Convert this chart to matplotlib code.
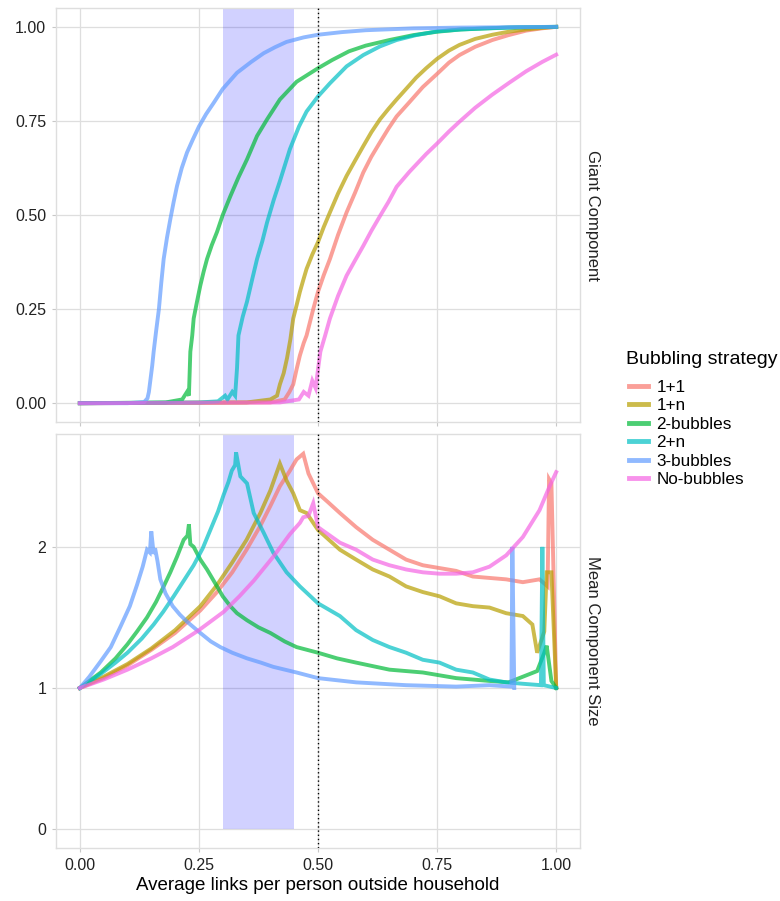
import matplotlib
matplotlib.use("Agg")
from matplotlib import pyplot as plt
from matplotlib.lines import Line2D

plt.rcParams['font.family'] = ['Liberation Sans', 'DejaVu Sans']

strategies = ["1+1", "1+n", "2-bubbles", "2+n", "3-bubbles", "No-bubbles"]
colors = ["#F8766D", "#B79F00", "#00BA38", "#00BFC4", "#619CFF", "#F564E3"]

# ---- Giant Component (top panel) ----
gc_x_1p1 = [0, 0.40, 0.43, 0.44, 0.448, 0.455, 0.462, 0.47, 0.476, 0.483, 0.49, 0.50,
            0.512, 0.525, 0.542, 0.56, 0.578, 0.595, 0.612, 0.63, 0.648, 0.665, 0.692,
            0.72, 0.75, 0.775, 0.797, 0.83, 0.866, 0.90, 0.937, 0.97, 1.0]
gc_y_1p1 = [0, 0.002, 0.01, 0.03, 0.05, 0.09, 0.127, 0.16, 0.18, 0.215, 0.25, 0.296,
            0.34, 0.383, 0.447, 0.507, 0.56, 0.613, 0.655, 0.693, 0.73, 0.762, 0.80,
            0.84, 0.875, 0.905, 0.925, 0.947, 0.965, 0.978, 0.99, 0.996, 1.0]

gc_x_1pn = [0, 0.35, 0.40, 0.414, 0.42, 0.428, 0.435, 0.442, 0.448, 0.455, 0.462, 0.469,
            0.476, 0.488, 0.50, 0.512, 0.525, 0.542, 0.56, 0.578, 0.595, 0.612, 0.63,
            0.648, 0.665, 0.692, 0.706, 0.727, 0.75, 0.775, 0.797, 0.83, 0.866, 0.90,
            0.937, 0.97, 1.0]
gc_y_1pn = [0, 0.002, 0.01, 0.02, 0.05, 0.08, 0.12, 0.17, 0.225, 0.26, 0.296, 0.327,
            0.357, 0.395, 0.428, 0.468, 0.507, 0.557, 0.604, 0.645, 0.683, 0.72, 0.754,
            0.782, 0.807, 0.845, 0.865, 0.89, 0.915, 0.937, 0.952, 0.968, 0.979, 0.987,
            0.993, 0.997, 1.0]

gc_x_2b = [0, 0.18, 0.215, 0.225, 0.229, 0.232, 0.236, 0.239, 0.246, 0.253, 0.26, 0.267,
           0.277, 0.288, 0.30, 0.316, 0.333, 0.351, 0.372, 0.393, 0.42, 0.455, 0.50,
           0.53, 0.565, 0.60, 0.65, 0.70, 0.75, 0.80, 0.90, 1.0]
gc_y_2b = [0, 0.002, 0.01, 0.03, 0.02, 0.137, 0.18, 0.225, 0.27, 0.313, 0.35, 0.383,
           0.42, 0.455, 0.50, 0.55, 0.60, 0.648, 0.71, 0.754, 0.807, 0.854, 0.89,
           0.912, 0.935, 0.95, 0.965, 0.978, 0.987, 0.993, 0.998, 1.0]

gc_x_2pn = [0, 0.25, 0.29, 0.305, 0.31, 0.32, 0.326, 0.33, 0.333, 0.342, 0.351, 0.362,
            0.372, 0.383, 0.393, 0.407, 0.42, 0.441, 0.46, 0.476, 0.50, 0.525, 0.56,
            0.595, 0.63, 0.665, 0.706, 0.75, 0.80, 0.85, 0.92, 1.0]
gc_y_2pn = [0, 0.002, 0.005, 0.02, 0.01, 0.03, 0.02, 0.093, 0.18, 0.23, 0.27, 0.33,
            0.383, 0.43, 0.48, 0.54, 0.59, 0.675, 0.735, 0.775, 0.815, 0.85, 0.895,
            0.925, 0.948, 0.965, 0.978, 0.988, 0.993, 0.996, 0.999, 1.0]

gc_x_3b = [0, 0.10, 0.135, 0.142, 0.145, 0.148, 0.152, 0.155, 0.16, 0.166, 0.171, 0.176,
           0.183, 0.19, 0.197, 0.204, 0.214, 0.225, 0.237, 0.25, 0.265, 0.281, 0.30,
           0.33, 0.36, 0.386, 0.41, 0.434, 0.47, 0.50, 0.55, 0.60, 0.70, 0.80, 0.90, 1.0]
gc_y_3b = [0, 0, 0.003, 0.013, 0.03, 0.06, 0.10, 0.137, 0.19, 0.25, 0.32, 0.383,
           0.44, 0.489, 0.535, 0.577, 0.625, 0.666, 0.70, 0.735, 0.768, 0.798, 0.835,
           0.878, 0.907, 0.93, 0.946, 0.96, 0.972, 0.979, 0.986, 0.991, 0.996, 0.998,
           0.999, 1.0]

gc_x_nb = [0, 0.42, 0.46, 0.47, 0.48, 0.488, 0.495, 0.50, 0.505, 0.515, 0.525, 0.542,
           0.56, 0.578, 0.595, 0.612, 0.63, 0.648, 0.665, 0.692, 0.727, 0.75, 0.775,
           0.797, 0.83, 0.866, 0.902, 0.937, 0.971, 1.0]
gc_y_nb = [0, 0.002, 0.01, 0.03, 0.02, 0.06, 0.04, 0.09, 0.137, 0.18, 0.225, 0.285,
           0.339, 0.38, 0.418, 0.458, 0.497, 0.535, 0.575, 0.615, 0.662, 0.69, 0.722,
           0.748, 0.785, 0.82, 0.852, 0.882, 0.907, 0.926]

# ---- Mean Component Size (bottom panel) ----
mc_x_1p1 = [0, 0.05, 0.10, 0.15, 0.20, 0.253, 0.288, 0.32, 0.35, 0.379, 0.40, 0.42,
            0.441, 0.455, 0.469, 0.48, 0.50, 0.52, 0.546, 0.58, 0.615, 0.65, 0.685,
            0.72, 0.755, 0.79, 0.825, 0.86, 0.895, 0.93, 0.965, 0.982, 0.985, 0.99,
            1.0]
mc_y_1p1 = [1.0, 1.07, 1.16, 1.27, 1.39, 1.55, 1.68, 1.82, 1.98, 2.15, 2.29, 2.43,
            2.54, 2.62, 2.66, 2.52, 2.38, 2.32, 2.24, 2.14, 2.05, 1.98, 1.91,
            1.87, 1.85, 1.83, 1.79, 1.78, 1.77, 1.75, 1.77, 1.72, 2.48, 2.45,
            1.0]

mc_x_1pn = [0, 0.05, 0.10, 0.15, 0.20, 0.253, 0.288, 0.32, 0.35, 0.379, 0.40, 0.42,
            0.434, 0.448, 0.462, 0.476, 0.50, 0.546, 0.58, 0.615, 0.65, 0.685, 0.72,
            0.755, 0.79, 0.825, 0.86, 0.895, 0.93, 0.95, 0.96, 0.975, 0.98, 0.99, 1.0]
mc_y_1pn = [1.0, 1.08, 1.17, 1.28, 1.41, 1.58, 1.73, 1.89, 2.05, 2.24, 2.40, 2.59,
            2.47, 2.38, 2.26, 2.24, 2.12, 1.98, 1.91, 1.84, 1.79, 1.72, 1.68,
            1.65, 1.60, 1.58, 1.57, 1.53, 1.51, 1.45, 1.25, 1.40, 1.82, 1.82, 1.0]

mc_x_2b = [0, 0.044, 0.075, 0.10, 0.12, 0.141, 0.16, 0.176, 0.19, 0.204, 0.218, 0.226,
           0.229, 0.232, 0.239, 0.253, 0.267, 0.288, 0.30, 0.316, 0.33, 0.351, 0.375,
           0.40, 0.43, 0.455, 0.50, 0.54, 0.58, 0.65, 0.72, 0.79, 0.86, 0.90, 0.93,
           0.96, 0.975, 0.98, 0.99, 1.0]
mc_y_2b = [1.0, 1.11, 1.21, 1.31, 1.40, 1.50, 1.61, 1.72, 1.82, 1.93, 2.05, 2.08,
           2.16, 2.02, 2.0, 1.91, 1.84, 1.72, 1.65, 1.58, 1.53, 1.48, 1.43,
           1.39, 1.33, 1.29, 1.25, 1.21, 1.18, 1.13, 1.11, 1.07, 1.05, 1.04, 1.08,
           1.12, 1.25, 1.30, 1.05, 1.0]

mc_x_2pn = [0, 0.044, 0.075, 0.10, 0.13, 0.155, 0.175, 0.197, 0.22, 0.239, 0.258, 0.274,
            0.29, 0.302, 0.312, 0.319, 0.326, 0.328, 0.337, 0.351, 0.365, 0.386, 0.406,
            0.434, 0.462, 0.50, 0.546, 0.58, 0.615, 0.65, 0.685, 0.72, 0.755, 0.79,
            0.825, 0.86, 0.895, 0.93, 0.968, 0.971, 0.974, 1.0]
mc_y_2pn = [1.0, 1.10, 1.18, 1.25, 1.35, 1.45, 1.54, 1.65, 1.77, 1.87, 1.99, 2.12,
            2.25, 2.37, 2.46, 2.54, 2.58, 2.67, 2.50, 2.45, 2.24, 2.10, 1.96,
            1.82, 1.72, 1.60, 1.51, 1.41, 1.34, 1.29, 1.25, 1.20, 1.18, 1.13,
            1.11, 1.06, 1.04, 1.03, 1.02, 2.0, 1.02, 1.0]

mc_x_3b = [0, 0.02, 0.044, 0.065, 0.086, 0.105, 0.12, 0.132, 0.141, 0.147, 0.15, 0.155,
           0.158, 0.163, 0.169, 0.18, 0.195, 0.21, 0.225, 0.253, 0.275, 0.295, 0.32,
           0.351, 0.38, 0.406, 0.455, 0.50, 0.58, 0.685, 0.79, 0.86, 0.906, 0.908,
           0.912]
mc_y_3b = [1.0, 1.08, 1.19, 1.29, 1.44, 1.58, 1.73, 1.86, 1.98, 1.96, 2.11, 1.95,
           1.99, 1.90, 1.77, 1.67, 1.58, 1.52, 1.47, 1.39, 1.33, 1.29, 1.25,
           1.21, 1.18, 1.15, 1.11, 1.07, 1.04, 1.02, 1.01, 1.02, 1.01, 2.0,
           1.0]

mc_x_nb = [0, 0.05, 0.10, 0.15, 0.195, 0.25, 0.302, 0.335, 0.365, 0.406, 0.441, 0.462,
           0.469, 0.48, 0.49, 0.50, 0.546, 0.58, 0.615, 0.65, 0.685, 0.72, 0.755, 0.79,
           0.825, 0.86, 0.895, 0.93, 0.965, 0.985, 1.0]
mc_y_nb = [1.0, 1.06, 1.13, 1.21, 1.29, 1.41, 1.54, 1.65, 1.76, 1.93, 2.09, 2.17,
           2.21, 2.22, 2.31, 2.14, 2.03, 1.98, 1.91, 1.87, 1.84, 1.82, 1.81, 1.81,
           1.82, 1.86, 1.94, 2.07, 2.26, 2.42, 2.53]

gc_series = [(gc_x_1p1, gc_y_1p1), (gc_x_1pn, gc_y_1pn), (gc_x_2b, gc_y_2b),
             (gc_x_2pn, gc_y_2pn), (gc_x_3b, gc_y_3b), (gc_x_nb, gc_y_nb)]
mc_series = [(mc_x_1p1, mc_y_1p1), (mc_x_1pn, mc_y_1pn), (mc_x_2b, mc_y_2b),
             (mc_x_2pn, mc_y_2pn), (mc_x_3b, mc_y_3b), (mc_x_nb, mc_y_nb)]

shade_lo, shade_hi = 0.30, 0.45
threshold = 0.5

fig = plt.figure(figsize=(7.8, 9.01), dpi=100)
ax1 = fig.add_axes([0.0718, 0.5316, 0.6718, 0.4595])
ax2 = fig.add_axes([0.0718, 0.0588, 0.6718, 0.4595])

grid_col = "#DEDEDE"
text_col = "#222222"


def style_panel(ax, yticks, ylabels, ylim, strip):
    ax.set_xlim(-0.05, 1.05)
    ax.set_ylim(*ylim)
    ax.set_xticks([0, 0.25, 0.5, 0.75, 1.0])
    ax.set_yticks(yticks)
    ax.set_yticklabels(ylabels)
    ax.grid(True, color=grid_col, linewidth=0.9)
    ax.set_axisbelow(True)
    for sp in ax.spines.values():
        sp.set_color(grid_col)
        sp.set_linewidth(1.0)
    ax.tick_params(length=3, color="#C8C8C8", labelsize=11.5, labelcolor=text_col, pad=4)
    ax.text(1.009, 0.5, strip, transform=ax.transAxes, rotation=270,
            ha="left", va="center", fontsize=12, color=text_col)


style_panel(ax1, [0, 0.25, 0.5, 0.75, 1.0], ["0.00", "0.25", "0.50", "0.75", "1.00"],
            (-0.05, 1.05), "Giant Component")
style_panel(ax2, [0, 1, 2], ["0", "1", "2"], (-0.134, 2.80), "Mean Component Size")
ax1.tick_params(labelbottom=False)
ax2.set_xticklabels(["0.00", "0.25", "0.50", "0.75", "1.00"])

for ax, series in ((ax1, gc_series), (ax2, mc_series)):
    ax.fill_between([shade_lo, shade_hi], 0, 10, color="#0000FF", alpha=0.18,
                    linewidth=0, zorder=1)
    for (xs, ys), c in zip(series, colors):
        ax.plot(xs, ys, color=c, alpha=0.7, linewidth=2.8, zorder=2,
                solid_joinstyle="miter")
    ax.axvline(threshold, color="black", linestyle=(0, (1, 2)), linewidth=1.0, zorder=3)

fig.text(318 / 780, 0.0175, "Average links per person outside household",
         ha="center", va="center", fontsize=13.5, color="black")

# legend title placed on its own so the gap to the keys matches
fig.text(626 / 780, 1 - 360 / 901, "Bubbling strategy", ha="left", va="center",
         fontsize=14, color="black")
handles = [Line2D([], [], color=c, alpha=0.7, linewidth=3.5) for c in colors]
fig.legend(handles, strategies, loc="upper left",
           bbox_to_anchor=(629 / 780, 1 - 380 / 901), frameon=False, fontsize=12.3,
           handlelength=1.1, handletextpad=0.5, labelspacing=0.2, borderpad=0,
           borderaxespad=0)

fig.savefig("out.png", dpi=100)
